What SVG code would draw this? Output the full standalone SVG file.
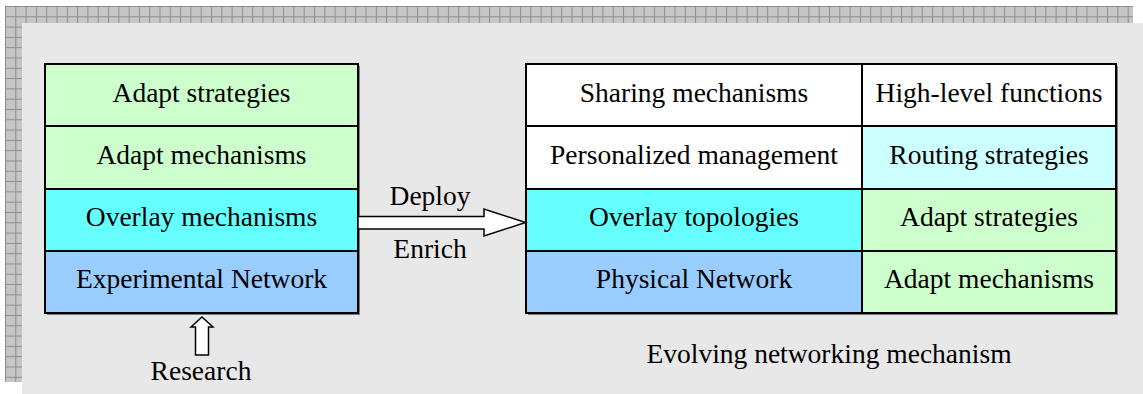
<svg xmlns="http://www.w3.org/2000/svg" width="1143" height="394" viewBox="0 0 1143 394">
  <defs>
    <pattern id="grid" x="5" y="6" width="10.3" height="10.3" patternUnits="userSpaceOnUse">
      <rect width="10.3" height="10.3" fill="#c6c6c6"/>
      <path d="M0 0.5 H10.3 M0.5 0 V10.3" stroke="#8c8c8c" stroke-width="1" fill="none"/>
    </pattern>
  </defs>
  <style>
    .cell { stroke: #000; stroke-width: 2; }
    .green { fill: #ccffcc; }
    .cyan { fill: #66ffff; }
    .blue { fill: #99ccff; }
    .pale { fill: #ccffff; }
    .white { fill: #ffffff; }
    .shadow { fill: #7a7a7a; }
    text { font-family: "Liberation Serif", "Times New Roman", serif; font-size: 27.5px; fill: #000; text-anchor: middle; }
    .arrow { fill: #fff; stroke: #000; stroke-width: 1.5; stroke-linejoin: miter; }
  </style>

  <!-- page background with hatched frame -->
  <rect x="0" y="0" width="1143" height="394" fill="#ffffff"/>
  <rect x="5" y="6" width="1128" height="376" fill="url(#grid)"/>
  <rect x="22" y="23" width="1121" height="371" fill="#e8e8e8"/>

  <!-- left stack: experimental network -->
  <g id="left-stack">
    <rect class="shadow" x="47" y="66" width="313" height="249"/>
    <g id="left-adapt-strategies">
      <rect class="cell green" x="45" y="64" width="313" height="62"/>
      <text x="201.5" y="102">Adapt strategies</text>
    </g>
    <g id="left-adapt-mechanisms">
      <rect class="cell green" x="45" y="126" width="313" height="63"/>
      <text x="201.5" y="164">Adapt mechanisms</text>
    </g>
    <g id="left-overlay-mechanisms">
      <rect class="cell cyan" x="45" y="189" width="313" height="62"/>
      <text x="201.5" y="226">Overlay mechanisms</text>
    </g>
    <g id="left-experimental-network">
      <rect class="cell blue" x="45" y="251" width="313" height="62"/>
      <text x="201.5" y="288">Experimental Network</text>
    </g>
  </g>

  <!-- right stack: evolving networking mechanism -->
  <g id="right-stack">
    <rect class="shadow" x="528" y="66" width="590" height="249"/>
    <g id="sharing-mechanisms">
      <rect class="cell white" x="526" y="64" width="336" height="62"/>
      <text x="694" y="102">Sharing mechanisms</text>
    </g>
    <g id="high-level-functions">
      <rect class="cell white" x="862" y="64" width="254" height="62"/>
      <text x="989" y="102">High-level functions</text>
    </g>
    <g id="personalized-management">
      <rect class="cell white" x="526" y="126" width="336" height="63"/>
      <text x="694" y="164">Personalized management</text>
    </g>
    <g id="routing-strategies">
      <rect class="cell pale" x="862" y="126" width="254" height="63"/>
      <text x="989" y="164">Routing strategies</text>
    </g>
    <g id="overlay-topologies">
      <rect class="cell cyan" x="526" y="189" width="336" height="62"/>
      <text x="694" y="226">Overlay topologies</text>
    </g>
    <g id="right-adapt-strategies">
      <rect class="cell green" x="862" y="189" width="254" height="62"/>
      <text x="989" y="226">Adapt strategies</text>
    </g>
    <g id="physical-network">
      <rect class="cell blue" x="526" y="251" width="336" height="62"/>
      <text x="694" y="288">Physical Network</text>
    </g>
    <g id="right-adapt-mechanisms">
      <rect class="cell green" x="862" y="251" width="254" height="62"/>
      <text x="989" y="288">Adapt mechanisms</text>
    </g>
  </g>

  <!-- connectors -->
  <g id="connectors">
    <path class="arrow" d="M358 216.5 H484 V209 L525.5 222.5 L484 236 V229 H358 Z"/>
    <path class="arrow" d="M202 317 L213 327 H208.5 V355 H195.5 V327 H191 Z"/>
    <text x="430" y="205">Deploy</text>
    <text x="430" y="258">Enrich</text>
    <text x="201" y="380">Research</text>
  </g>

  <text x="829" y="363">Evolving networking mechanism</text>
</svg>
